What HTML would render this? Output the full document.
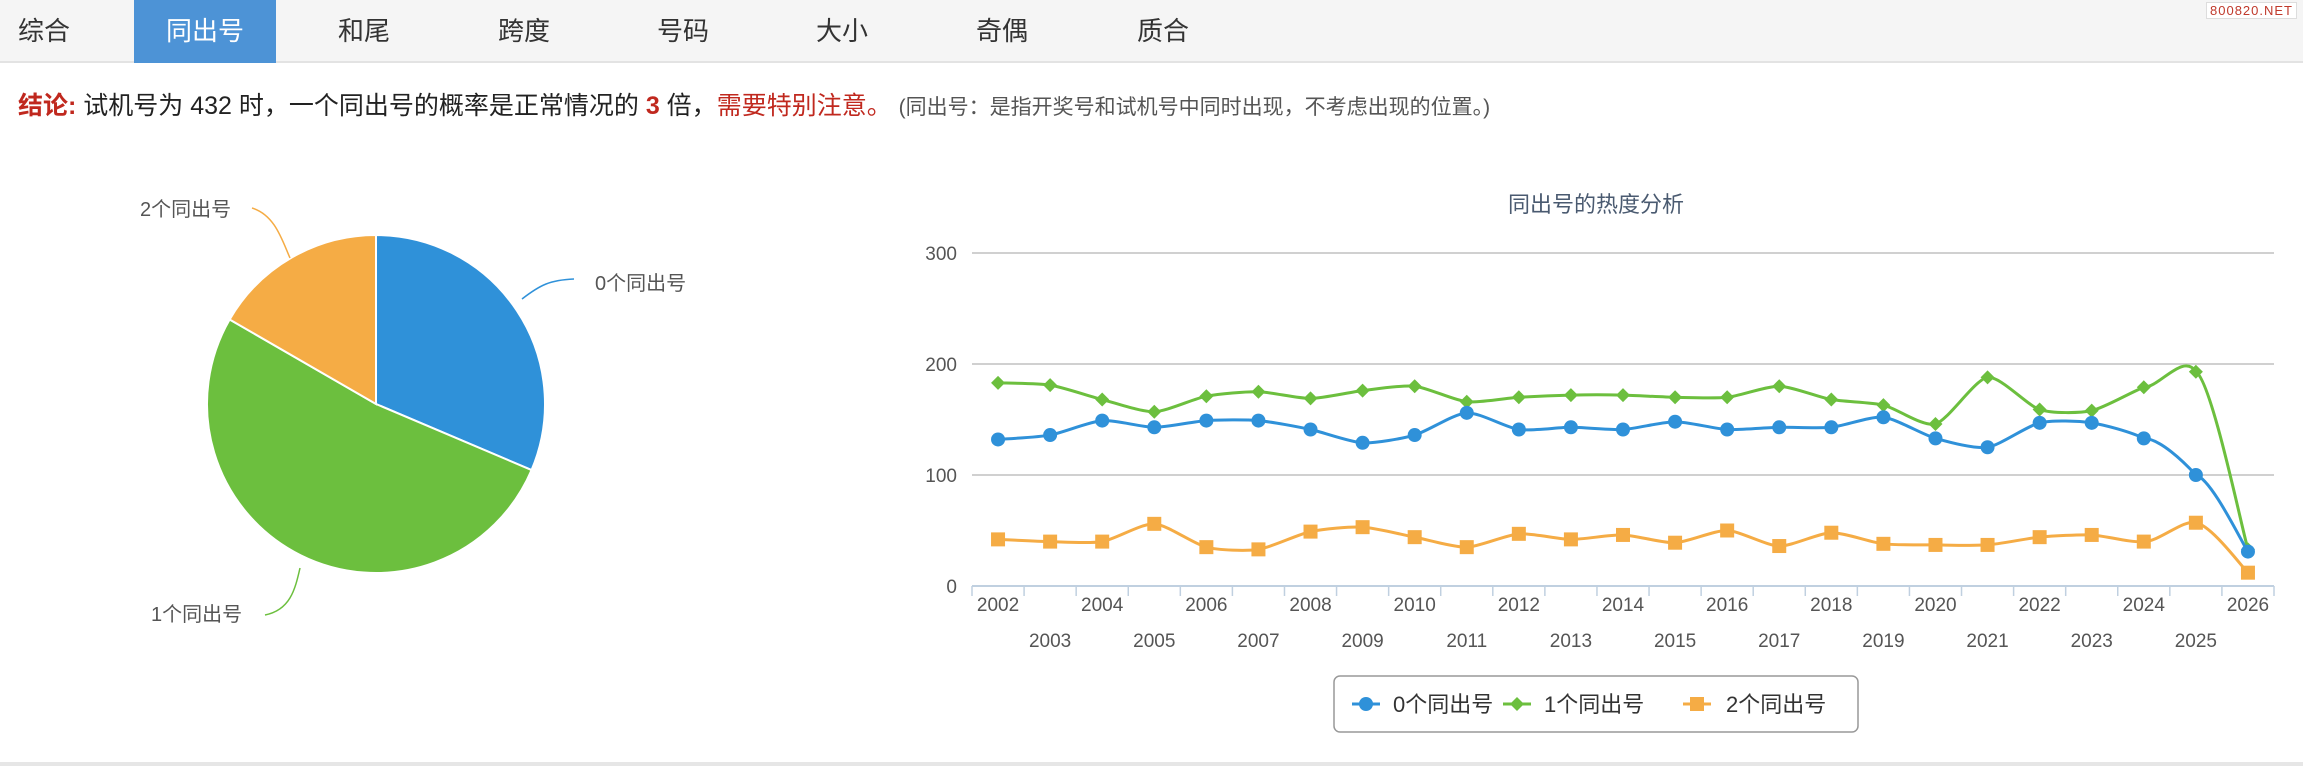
<!DOCTYPE html>
<html><head><meta charset="utf-8">
<style>
*{margin:0;padding:0;box-sizing:border-box}
body{width:2303px;height:766px;background:#fff;font-family:"Liberation Sans","Noto Sans CJK SC",sans-serif;position:relative;overflow:hidden}
.tabs{position:absolute;left:0;top:0;width:2303px;height:63px;background:#f5f5f5;border-bottom:2px solid #e3e3e3}
.tab{position:absolute;top:0;height:63px;line-height:63px;font-size:26px;color:#333;transform:translateX(-50%)}
.active{position:absolute;left:134px;top:0;width:142px;height:63px;background:#4d93d6}
.wm{position:absolute;right:6px;top:2px;font-size:13px;color:#c0392b;border:1px solid #ddd;background:#fff;padding:0 3px;letter-spacing:1px}
.concl{position:absolute;left:18px;top:86px;font-size:25px;color:#222;white-space:nowrap}
.concl .r{color:#c0281e}
.concl .s{font-size:21px;color:#555}
.bottom{position:absolute;left:0;top:762px;width:2303px;height:4px;background:#e6e6e6}
</style></head><body>
<div class="tabs">
<div class="active"></div>
<div class="tab" style="left:44px">综合</div>
<div class="tab" style="left:205px;color:#fff">同出号</div>
<div class="tab" style="left:364px">和尾</div>
<div class="tab" style="left:524px">跨度</div>
<div class="tab" style="left:683px">号码</div>
<div class="tab" style="left:842px">大小</div>
<div class="tab" style="left:1002px">奇偶</div>
<div class="tab" style="left:1163px">质合</div>
</div>
<div class="wm">800820.NET</div>
<div class="concl"><b class="r">结论:</b> 试机号为 432 时，一个同出号的概率是正常情况的 <b class="r">3</b> 倍，<span class="r">需要特别注意。</span> <span class="s">(同出号：是指开奖号和试机号中同时出现，不考虑出现的位置。)</span></div>
<svg id="pie" width="800" height="700" style="position:absolute;left:0;top:0" font-family="Liberation Sans, Noto Sans CJK SC, sans-serif"></svg>
<svg id="ch" width="2303" height="766" style="position:absolute;left:0;top:0" font-family="Liberation Sans, Noto Sans CJK SC, sans-serif"></svg>
<div class="bottom"></div>
<script>
var ns="http://www.w3.org/2000/svg";
function el(p,t,a,txt){var e=document.createElementNS(ns,t);for(var k in a)e.setAttribute(k,a[k]);if(txt!=null)e.textContent=txt;p.appendChild(e);return e;}
var pie=document.getElementById('pie'),cx=376,cy=404,r=169;
function pt(a){var rad=(a-90)*Math.PI/180;return [cx+r*Math.cos(rad),cy+r*Math.sin(rad)];}
function slice(a0,a1,c){var p0=pt(a0),p1=pt(a1);el(pie,'path',{d:'M'+cx+','+cy+'L'+p0+'A'+r+','+r+' 0 '+((a1-a0)>180?1:0)+' 1 '+p1+'Z',fill:c,stroke:'#fff','stroke-width':2});}
slice(0,113,'#2f91d9');slice(113,300,'#6cbf3e');slice(300,360,'#f5ac45');
el(pie,'path',{d:'M522,299 C540,285 550,280 574,279',stroke:'#2f91d9',fill:'none','stroke-width':1.5});
el(pie,'path',{d:'M290,258 C282,240 275,215 252,208',stroke:'#f5ac45',fill:'none','stroke-width':1.5});
el(pie,'path',{d:'M300,568 C295,590 290,610 265,615',stroke:'#6cbf3e',fill:'none','stroke-width':1.5});
el(pie,'text',{x:595,y:290,'font-size':20,fill:'#555'},'0个同出号');
el(pie,'text',{x:140,y:216,'font-size':20,fill:'#555'},'2个同出号');
el(pie,'text',{x:151,y:621,'font-size':20,fill:'#555'},'1个同出号');
var ch=document.getElementById('ch');
var X0=972,X1=2274,Y0=586,k=111/100,n=25,w=(X1-X0)/n;
function X(i){return X0+w*(i+0.5);} function Y(v){return Y0-v*k;}
el(ch,'text',{x:1596,y:212,'font-size':22,fill:'#4a5a70','text-anchor':'middle'},'同出号的热度分析');
[100,200,300].forEach(function(v){el(ch,'line',{x1:X0,x2:X1,y1:Y(v),y2:Y(v),stroke:'#d0d0d0','stroke-width':2});});
[0,100,200,300].forEach(function(v){el(ch,'text',{x:957,y:Y(v)+7,'font-size':19,fill:'#555','text-anchor':'end'},v);});
el(ch,'line',{x1:X0,x2:X1,y1:Y0,y2:Y0,stroke:'#c0d0e0','stroke-width':2});
for(var i=0;i<=n;i++)el(ch,'line',{x1:X0+w*i,x2:X0+w*i,y1:Y0,y2:Y0+10,stroke:'#c0d0e0','stroke-width':1.5});
for(var i=0;i<n;i++){el(ch,'text',{x:X(i),y:i%2==0?611:647,'font-size':19,fill:'#555','text-anchor':'middle'},2002+i);}
var D=[[132,136,149,143,149,149,141,129,136,156,141,143,141,148,141,143,143,152,133,125,147,147,133,100,31],
[183,181,168,157,171,175,169,176,180,166,170,172,172,170,170,180,168,163,146,188,159,158,179,193,33],
[42,40,40,56,35,33,49,53,44,35,47,42,46,39,50,36,48,38,37,37,44,46,40,57,12]];
var C=['#2f91d9','#6cbf3e','#f5ac45'];
function spline(d){var P=d.map(function(v,i){return [X(i),Y(v)];});var s='M'+P[0];
for(var i=0;i<P.length-1;i++){var p0=P[i-1]||P[i],p1=P[i],p2=P[i+1],p3=P[i+2]||P[i+1],t=0.12;
var c1=[p1[0]+(p2[0]-p0[0])*t,p1[1]+(p2[1]-p0[1])*t],c2=[p2[0]-(p3[0]-p1[0])*t,p2[1]-(p3[1]-p1[1])*t];
if(i==P.length-3||i==P.length-2){c1=[p1[0]+w*0.3,p1[1]+(i==P.length-2?(p2[1]-p1[1])*0.05:0)];}
s+='C'+c1+' '+c2+' '+p2;}return s;}
function marker(s,x,y){if(s==0)el(ch,'circle',{cx:x,cy:y,r:7,fill:C[0]});
else if(s==1)el(ch,'path',{d:'M'+x+','+(y-7)+'L'+(x+7)+','+y+'L'+x+','+(y+7)+'L'+(x-7)+','+y+'Z',fill:C[1]});
else el(ch,'rect',{x:x-7,y:y-7,width:14,height:14,fill:C[2]});}
for(var s=2;s>=0;s--){el(ch,'path',{d:spline(D[s]),stroke:C[s],'stroke-width':3,fill:'none'});}
for(var s=2;s>=0;s--)D[s].forEach(function(v,i){marker(s,X(i),Y(v));});
el(ch,'rect',{x:1334,y:676,width:524,height:56,rx:6,fill:'#fff',stroke:'#999','stroke-width':1.5});
var lm=[1366,1517,1697],tx=[1393,1544,1726],lt=['0个同出号','1个同出号','2个同出号'];
for(var s=0;s<3;s++){el(ch,'line',{x1:lm[s]-14,x2:lm[s]+14,y1:704,y2:704,stroke:C[s],'stroke-width':3});
marker(s,lm[s],704);
el(ch,'text',{x:tx[s],y:712,'font-size':22,fill:'#333'},lt[s]);}
</script>
</body></html>
